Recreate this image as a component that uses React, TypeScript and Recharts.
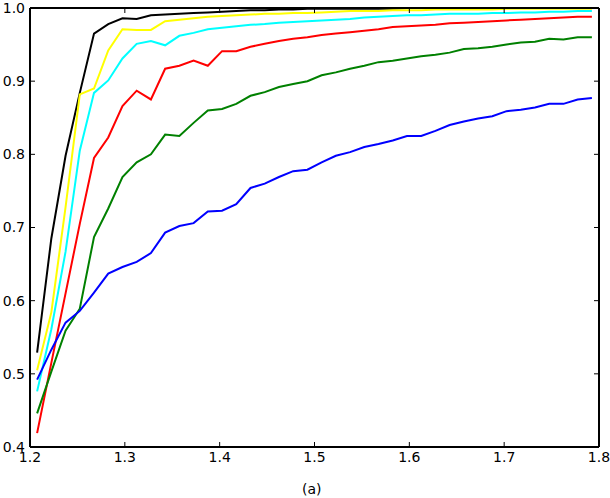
import React from 'react';
import { LineChart, Line, XAxis, YAxis } from 'recharts';

// x positions of the samples
const xs = [
  1.2075, 1.2225, 1.2375, 1.2525, 1.2675, 1.2825, 1.2975, 1.3125, 1.3275, 1.3425,
  1.3575, 1.3725, 1.3875, 1.4025, 1.4175, 1.4325, 1.4475, 1.4625, 1.4775, 1.4925,
  1.5075, 1.5225, 1.5375, 1.5525, 1.5675, 1.5825, 1.5975, 1.6125, 1.6275, 1.6425,
  1.6575, 1.6725, 1.6875, 1.7025, 1.7175, 1.7325, 1.7475, 1.7625, 1.7775, 1.7925,
];

const black = [
  0.529, 0.685, 0.798, 0.884, 0.965, 0.978, 0.986, 0.985, 0.990, 0.991,
  0.992, 0.993, 0.994, 0.995, 0.996, 0.997, 0.997, 0.998, 0.998, 0.999,
  0.999, 0.999, 0.999, 0.999, 0.999, 0.999, 1.0, 1.0, 1.0, 1.0,
  1.0, 1.0, 1.0, 1.0, 1.0, 1.0, 1.0, 1.0, 1.0, 1.0,
];

const yellow = [
  0.505, 0.584, 0.728, 0.882, 0.890, 0.942, 0.971, 0.970, 0.970, 0.982,
  0.984, 0.986, 0.988, 0.989, 0.990, 0.991, 0.992, 0.992, 0.993, 0.993,
  0.994, 0.995, 0.996, 0.996, 0.996, 0.997, 0.997, 0.997, 0.998, 0.998,
  0.998, 0.998, 0.998, 0.999, 0.999, 0.999, 0.999, 0.999, 0.999, 0.999,
];

const cyan = [
  0.476, 0.561, 0.667, 0.805, 0.884, 0.901, 0.931, 0.951, 0.955, 0.949,
  0.962, 0.966, 0.971, 0.973, 0.975, 0.977, 0.978, 0.980, 0.981, 0.982,
  0.983, 0.984, 0.985, 0.987, 0.988, 0.989, 0.990, 0.990, 0.991, 0.992,
  0.992, 0.992, 0.993, 0.993, 0.994, 0.994, 0.995, 0.995, 0.996, 0.996,
];

const red = [
  0.419, 0.515, 0.610, 0.705, 0.795, 0.823, 0.866, 0.887, 0.875, 0.917,
  0.921, 0.928, 0.921, 0.941, 0.941, 0.947, 0.951, 0.955, 0.958, 0.960,
  0.963, 0.965, 0.967, 0.969, 0.971, 0.974, 0.975, 0.976, 0.977, 0.979,
  0.980, 0.981, 0.982, 0.983, 0.984, 0.985, 0.986, 0.987, 0.988, 0.988,
];

const green = [
  0.446, 0.503, 0.559, 0.589, 0.687, 0.726, 0.769, 0.789, 0.800, 0.827,
  0.825, 0.843, 0.860, 0.862, 0.869, 0.880, 0.885, 0.892, 0.896, 0.900,
  0.908, 0.912, 0.917, 0.921, 0.926, 0.928, 0.931, 0.934, 0.936, 0.939,
  0.944, 0.945, 0.947, 0.950, 0.953, 0.954, 0.958, 0.957, 0.960, 0.960,
];

const blue = [
  0.492, 0.533, 0.570, 0.586, 0.611, 0.637, 0.646, 0.653, 0.665, 0.693,
  0.702, 0.706, 0.722, 0.723, 0.732, 0.754, 0.760, 0.769, 0.777, 0.779,
  0.789, 0.798, 0.803, 0.810, 0.814, 0.819, 0.825, 0.825, 0.832, 0.840,
  0.845, 0.849, 0.852, 0.859, 0.861, 0.864, 0.869, 0.869, 0.875, 0.877,
];

const xTicks = [1.2, 1.3, 1.4, 1.5, 1.6, 1.7, 1.8];
const yTicks = [0.4, 0.5, 0.6, 0.7, 0.8, 0.9, 1.0];

const series = [
  { key: 'black', color: '#000000', values: black },
  { key: 'yellow', color: '#ffff00', values: yellow },
  { key: 'cyan', color: '#00ffff', values: cyan },
  { key: 'red', color: '#ff0000', values: red },
  { key: 'green', color: '#008000', values: green },
  { key: 'blue', color: '#0000ff', values: blue },
];

const data = xs.map((x, i) => {
  const row: Record<string, number> = { x };
  series.forEach(s => { row[s.key] = s.values[i]; });
  return row;
});

const tickFont = { fontFamily: 'DejaVu Sans', fontSize: 14, fill: '#000' };
const frame = { stroke: '#000', strokeWidth: 2 };
const tickLine = { stroke: '#000', strokeWidth: 1 };
const NoLabel = () => <g />;

export default function App() {
  return (
    <div style={{ position: 'absolute', left: 0, top: 0, width: 610, height: 498, background: '#fff' }}>
      <LineChart width={610} height={498} data={data} margin={{ top: 7, right: 10, bottom: 0, left: 0 }}>
        <XAxis
          dataKey="x"
          type="number"
          domain={[1.2, 1.8]}
          ticks={xTicks}
          tickFormatter={(v: number) => v.toFixed(1)}
          height={51}
          tickSize={-5}
          tickMargin={10}
          tick={tickFont}
          axisLine={frame}
          tickLine={tickLine}
          allowDataOverflow
        />
        <XAxis
          xAxisId="top"
          dataKey="x"
          orientation="top"
          type="number"
          domain={[1.2, 1.8]}
          ticks={xTicks}
          height={1}
          tickSize={-5}
          tick={NoLabel}
          axisLine={frame}
          tickLine={tickLine}
          allowDataOverflow
        />
        <YAxis
          type="number"
          domain={[0.4, 1.0]}
          ticks={yTicks}
          tickFormatter={(v: number) => v.toFixed(1)}
          width={30}
          tickSize={-5}
          tickMargin={10}
          tick={tickFont}
          axisLine={frame}
          tickLine={tickLine}
          allowDataOverflow
        />
        <YAxis
          yAxisId="right"
          orientation="right"
          type="number"
          domain={[0.4, 1.0]}
          ticks={yTicks}
          width={1}
          tickSize={-5}
          tick={NoLabel}
          axisLine={frame}
          tickLine={tickLine}
          allowDataOverflow
        />
        {series.map(s => (
          <Line
            key={s.key}
            dataKey={s.key}
            stroke={s.color}
            strokeWidth={2}
            dot={false}
            type="linear"
            isAnimationActive={false}
          />
        ))}
      </LineChart>
      <div
        style={{
          position: 'absolute',
          left: 302,
          top: 480,
          fontFamily: 'DejaVu Sans',
          fontSize: 14,
          color: '#000',
          lineHeight: '18px',
        }}
      >
        (a)
      </div>
    </div>
  );
}
